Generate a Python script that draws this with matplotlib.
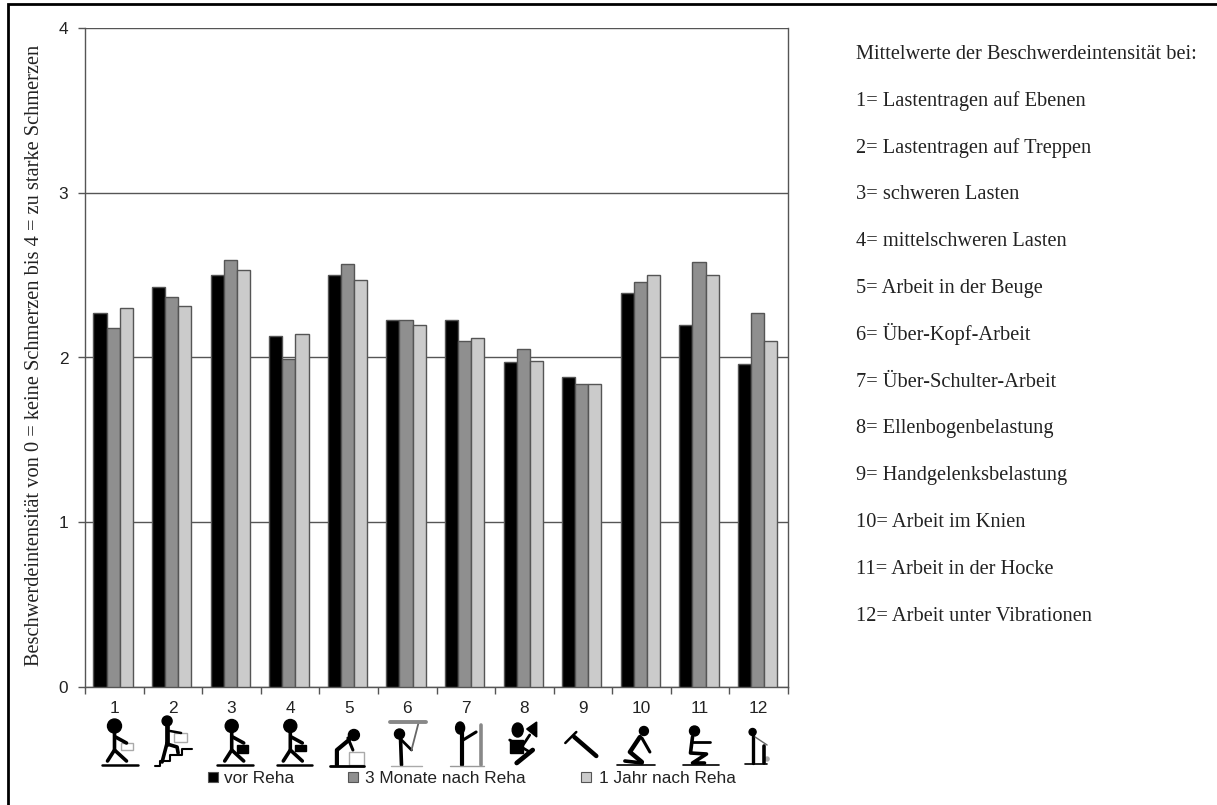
import numpy as np
import matplotlib
matplotlib.use("Agg")
import matplotlib.pyplot as plt
from matplotlib.patches import Rectangle, Ellipse, Polygon

# values
categories = ["1", "2", "3", "4", "5", "6", "7", "8", "9", "10", "11", "12"]
vor_reha = [2.27, 2.43, 2.50, 2.13, 2.50, 2.23, 2.23, 1.97, 1.88, 2.39, 2.20, 1.96]
drei_monate = [2.18, 2.37, 2.59, 1.99, 2.57, 2.23, 2.10, 2.05, 1.84, 2.46, 2.58, 2.27]
ein_jahr = [2.30, 2.31, 2.53, 2.14, 2.47, 2.20, 2.12, 1.98, 1.84, 2.50, 2.50, 2.10]
series_names = ["vor Reha", "3 Monate nach Reha", "1 Jahr nach Reha"]
series_colors = ["#000000", "#8f8f8f", "#cbcbcb"]
y_ticks = [0, 1, 2, 3, 4]
y_title = "Beschwerdeintensität von 0 = keine Schmerzen bis 4 = zu starke Schmerzen"
side_lines = [
    "Mittelwerte der Beschwerdeintensität bei:",
    "1= Lastentragen auf Ebenen",
    "2= Lastentragen auf Treppen",
    "3= schweren Lasten",
    "4= mittelschweren Lasten",
    "5= Arbeit in der Beuge",
    "6= Über-Kopf-Arbeit",
    "7= Über-Schulter-Arbeit",
    "8= Ellenbogenbelastung",
    "9= Handgelenksbelastung",
    "10= Arbeit im Knien",
    "11= Arbeit in der Hocke",
    "12= Arbeit unter Vibrationen",
]

W, H = 1217, 805
fig = plt.figure(figsize=(W / 100, H / 100), dpi=100)

# overlay in pixel coordinates for frame, icons and legend
over = fig.add_axes([0, 0, 1, 1], zorder=5)
over.set_xlim(0, W)
over.set_ylim(H, 0)
over.axis("off")

ax = fig.add_axes([85 / W, 1 - 687 / H, 703 / W, 659 / H])
x = np.arange(len(categories))
bar_w = 0.224
for i, (vals, col) in enumerate(zip([vor_reha, drei_monate, ein_jahr], series_colors)):
    ax.bar(x - 0.02 + (i - 1) * bar_w, vals, bar_w, color=col, edgecolor="#555555",
           linewidth=1.0, zorder=3)

ax.set_xlim(-0.5, 11.5)
ax.set_ylim(0, 4)
ax.set_yticks(y_ticks)
ax.set_xticks(np.arange(13) - 0.5)
ax.set_xticklabels([])
ax.set_xticks(x, minor=True)
ax.set_xticklabels(categories, minor=True, family="Liberation Sans", fontsize=12.4, color="#222222")
ax.tick_params(axis="x", which="minor", length=0, pad=10)
ax.tick_params(axis="x", which="major", length=5, width=1, color="#555555")
ax.tick_params(axis="y", length=5, width=1, color="#555555", labelsize=12.4, labelcolor="#222222", pad=7)
for lab in ax.get_yticklabels():
    lab.set_family("Liberation Sans")
ax.grid(axis="y", color="#555555", linewidth=1.0, zorder=0)
ax.set_axisbelow(True)
for s in ax.spines.values():
    s.set_color("#555555")
    s.set_linewidth(1.0)
ax.spines["top"].set_visible(False)

# frame: only top and left edges show in the picture
over.plot([8, 8, W], [H, 4, 4], color="black", linewidth=2.0, solid_joinstyle="miter")

fig.text(35 / W, 1 - 355 / H, y_title, rotation=90, family="Liberation Serif", fontsize=14.7,
         ha="center", va="center", color="#222222")

for i, line in enumerate(side_lines):
    fig.text(856 / W, 1 - (59 + i * 46.8) / H, line, family="Liberation Serif", fontsize=14.7,
             ha="left", va="baseline", color="#222222")

# legend
for name, col, sx, tx in zip(series_names, series_colors, [208, 348, 581], [224, 365, 599]):
    over.add_patch(Rectangle((sx, 772), 10, 10, facecolor=col, edgecolor="#555555", linewidth=0.8))
    over.text(tx, 778, name, family="Liberation Sans", fontsize=12.4, va="center", color="#222222")


# small pictograms, offsets in pixels from the icon centre
def limb(cx, cy, pts, lw=2.6, col="black"):
    px = [cx + p[0] for p in pts]
    py = [cy + p[1] for p in pts]
    over.plot(px, py, color=col, linewidth=lw, solid_capstyle="round", solid_joinstyle="round")


def head(cx, cy, dx, dy, r, ry=None):
    over.add_patch(Ellipse((cx + dx, cy + dy), 2 * r, 2 * (ry or r), color="black"))


def box(cx, cy, dx, dy, w, h, fc="white", ec="#aaaaaa"):
    over.add_patch(Rectangle((cx + dx, cy + dy), w, h, facecolor=fc, edgecolor=ec, linewidth=1))


def walker(cx, cy, r, ground, load):
    head(cx, cy, 0, -15, r)
    limb(cx, cy, [(0, -10), (0, 9), (-7, 20)])
    limb(cx, cy, [(0, 9), (12, 20)])
    limb(cx, cy, [(1, -4), (12, 2)])
    limb(cx, cy, [(ground[0], 24), (ground[1], 24)], 1.8)
    if load is None:
        box(cx, cy, 6, 2, 12, 7)
    else:
        box(cx, cy, 5, 4, load[0], load[1], fc="black", ec="black")


def draw_icon(n, cx, cy):
    if n == 1:
        walker(cx, cy, 7, (-13, 23), None)
    elif n == 3:
        walker(cx, cy, 6.5, (-15, 21), (11, 8))
    elif n == 4:
        walker(cx, cy, 6.5, (-13, 22), (11, 6))
    elif n == 2:
        head(cx, cy, -6, -20, 5)
        limb(cx, cy, [(-6, -17), (-6, 3)], 3.4)
        limb(cx, cy, [(-6, 2), (-11, 21)])
        limb(cx, cy, [(-6, 3), (4, 6), (5, 12)])
        limb(cx, cy, [(-3, -10), (8, -8)], 1.8)
        box(cx, cy, 1, -8, 13, 9)
        limb(cx, cy, [(-18, 25), (-13, 25), (-13, 20), (-3, 20), (-3, 14), (9, 14), (9, 8), (19, 8)], 1.5)
    elif n == 5:
        head(cx, cy, 5, -6, 5.5)
        limb(cx, cy, [(0, -1), (-12, 9), (-12, 24)], 3)
        limb(cx, cy, [(-1, -3), (4, 9)], 2.2)
        limb(cx, cy, [(-19, 25), (15, 25)], 2)
        box(cx, cy, 0, 11, 15, 13)
    elif n == 6:
        head(cx, cy, -8, -7, 5)
        limb(cx, cy, [(-7, -3), (-6, 24)], 2.6)
        limb(cx, cy, [(-6, -1), (4, 9)], 2)
        limb(cx, cy, [(4, 9), (11, -18)], 1.3, "#666666")
        limb(cx, cy, [(-18, -19), (18, -19)], 2.8, "#888888")
        limb(cx, cy, [(-17, 25), (14, 25)], 1, "#aaaaaa")
    elif n == 7:
        head(cx, cy, -6, -13, 4.5, 6)
        limb(cx, cy, [(-4, -9), (-4, 24)], 3)
        limb(cx, cy, [(-3, -1), (10, -9)], 2.2)
        limb(cx, cy, [(15, -16), (15, 24)], 2.6, "#888888")
        limb(cx, cy, [(-16, 25), (18, 25)], 1, "#999999")
    elif n == 8:
        head(cx, cy, -7, -11, 5.5, 7)
        over.add_patch(Polygon([(cx + 12, cy - 19), (cx + 2, cy - 12), (cx + 12, cy - 4)], color="black"))
        limb(cx, cy, [(5, -6), (-5, 9)], 2)
        box(cx, cy, -15, -1, 13, 13, fc="black", ec="black")
        limb(cx, cy, [(-15, -1), (5, 11)], 2)
        limb(cx, cy, [(8, 9), (-8, 22)], 3.4)
    elif n == 9:
        limb(cx, cy, [(-9, -4), (13, 15)], 3.2)
        limb(cx, cy, [(-18, 2), (-7, -9)], 1.8)
    elif n == 10:
        head(cx, cy, 2, -10, 4.5)
        limb(cx, cy, [(-2, -4), (-12, 11), (0, 21)], 3.2)
        limb(cx, cy, [(0, -3), (8, 11)], 2.2)
        limb(cx, cy, [(-17, 20), (0, 22)], 2.6)
        limb(cx, cy, [(-25, 24), (13, 24)], 1.2)
    elif n == 11:
        head(cx, cy, -6, -10, 5)
        limb(cx, cy, [(-8, -4), (-10, 12), (6, 13), (-8, 22), (4, 22)], 2.6)
        limb(cx, cy, [(-8, 1), (9, 1)], 2)
        limb(cx, cy, [(-18, 24), (18, 24)], 1.2)
    else:
        head(cx, cy, -6.5, -9, 3.5)
        limb(cx, cy, [(-6.5, -8), (-6.5, 22)], 2.4)
        limb(cx, cy, [(-4, -4), (8, 4)], 1, "#666666")
        limb(cx, cy, [(5, 5), (5, 22)], 2.6)
        over.add_patch(Ellipse((cx + 8, cy + 18), 4, 4, color="#aaaaaa"))
        limb(cx, cy, [(-14, 23), (8, 23)], 1.2)


icon_x = [114.5 + i * 58.6 for i in range(12)]
for n, cx in enumerate(icon_x, start=1):
    draw_icon(n, cx, 741)

fig.savefig("out.png", dpi=100)
